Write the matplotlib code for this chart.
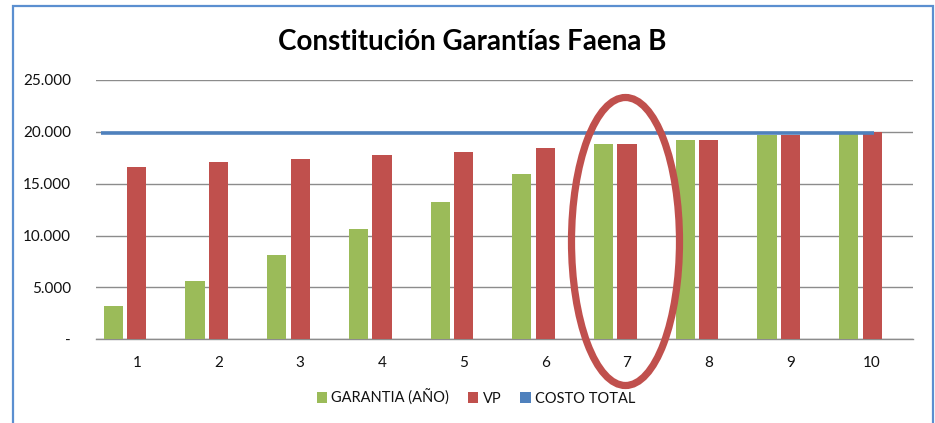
import matplotlib
matplotlib.use("Agg")
import matplotlib.pyplot as plt
from matplotlib.patches import Patch, Ellipse, Rectangle
import numpy as np

categories = [1, 2, 3, 4, 5, 6, 7, 8, 9, 10]
garantia = [3250, 5620, 8100, 10640, 13210, 15970, 18830, 19220, 19700, 19880]
vp = [16650, 17060, 17350, 17740, 18060, 18410, 18830, 19220, 19700, 20000]
costo_total = 19860
yticks = [0, 5000, 10000, 15000, 20000, 25000]
ytick_labels = ["-", "5.000", "10.000", "15.000", "20.000", "25.000"]
title = "Constitución Garantías Faena B"

GREEN = "#9BBB59"
RED = "#C0504D"
BLUE = "#4F81BD"

plt.rcParams['font.family'] = ['Lato', 'DejaVu Sans']

fig = plt.figure(figsize=(9.35, 4.23), dpi=100)
ax = fig.add_axes([96/935, 1-339.3/423, (913-96)/935, (339.3-80)/423])

x = np.array(categories, dtype=float)
w = 0.235
ax.bar(x - 0.288, garantia, width=w, color=GREEN, zorder=3, label="GARANTIA (AÑO)")
ax.bar(x, vp, width=w, color=RED, zorder=3, label="VP")
ax.hlines(costo_total, 0.56, 10.02, color=BLUE, lw=2.6, zorder=4, label="COSTO TOTAL")

ax.set_xlim(0.5, 10.5)
ax.set_ylim(0, 25000)
ax.set_yticks(yticks)
ax.set_yticklabels(ytick_labels)
ax.set_xticks(x)
ax.set_xticklabels([str(c) for c in categories])
ax.tick_params(axis='y', length=0, pad=18, labelsize=11, labelcolor="#111111")
ax.tick_params(axis='x', length=0, pad=12, labelsize=11, labelcolor="#111111")
ax.grid(axis='y', color="#8C8C8C", lw=1.0, zorder=0)
for s in ["left", "right", "top"]:
    ax.spines[s].set_visible(False)
ax.spines["bottom"].set_color("#8C8C8C")
ax.spines["bottom"].set_linewidth(1.0)

fig.text(472/935, 1-42/423, title, ha="center", va="center",
         fontsize=20, fontweight="bold", color="black")

handles = [Patch(facecolor=GREEN, edgecolor="none"),
           Patch(facecolor=RED, edgecolor="none"),
           Patch(facecolor=BLUE, edgecolor="none")]
leg = fig.legend(handles, ["GARANTIA (AÑO)", "VP", "COSTO TOTAL"],
                 loc="center", bbox_to_anchor=(476/935, 1-397.5/423),
                 ncol=3, frameon=False, fontsize=10.5, handlelength=0.7,
                 handleheight=0.7, handletextpad=0.3, columnspacing=1.3)
for t in leg.get_texts():
    t.set_color("#111111")

# frame around chart
fig.patches.append(Rectangle((12.5/935, -0.05), (933-12.5)/935, 1.05 - 6/423,
                             transform=fig.transFigure, fill=False,
                             edgecolor="#5B8FD0", lw=1.6))
# highlight ellipse
fig.patches.append(Ellipse((625.5/935, 1-241.5/423), 108/935, 288/423,
                           transform=fig.transFigure, fill=False,
                           edgecolor=RED, lw=5.2, zorder=10))

fig.savefig("out.png", dpi=100)
